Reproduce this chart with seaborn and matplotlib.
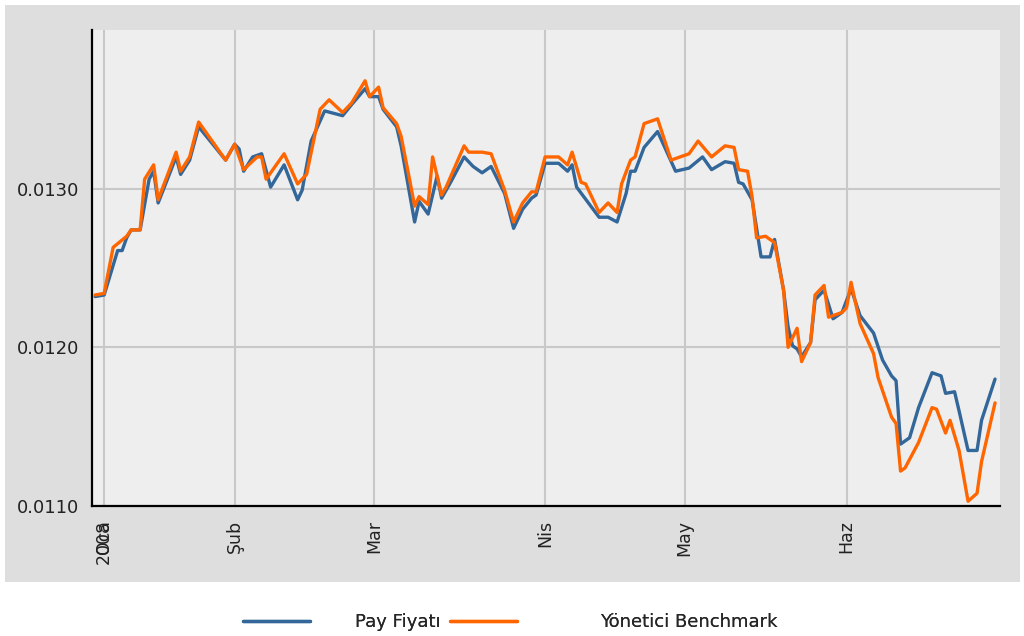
import matplotlib
matplotlib.use("Agg")
import matplotlib.pyplot as plt
from matplotlib.patches import Rectangle
import pandas as pd
import seaborn as sns

# Session index (trading days since the start of January 2008) and closing values
gun_pay = [0, 2, 5, 6, 7, 8, 10, 12, 13, 14,
           18, 19, 21, 23, 29, 31, 32, 33, 35, 37,
           39, 42, 45, 46, 48, 51, 55, 57, 60, 61,
           63, 64, 67, 68, 70, 71, 72, 74, 76, 77,
           79, 82, 84, 86, 88, 91, 93, 95, 97, 98,
           100, 103, 105, 106, 107, 112, 114, 116, 118, 119,
           120, 122, 125, 129, 132, 135, 137, 140, 142, 143,
           144, 146, 148, 150, 151, 153, 154, 155, 156, 157,
           159, 160, 162, 164, 166, 168, 170, 173, 175, 177,
           178, 179, 181, 183, 186, 188, 189, 191, 192, 194,
           196, 197, 200]
pay_fiyati = [0.01232, 0.01233, 0.01261, 0.01261, 0.01269, 0.01274, 0.01274, 0.01306, 0.01311, 0.01291,
              0.01320, 0.01309, 0.01318, 0.01339, 0.01318, 0.01328, 0.01325, 0.01311, 0.01320, 0.01322,
              0.01301, 0.01315, 0.01293, 0.01299, 0.01330, 0.01349, 0.01346, 0.01353, 0.01363, 0.01358,
              0.01358, 0.01350, 0.01339, 0.01327, 0.01295, 0.01279, 0.01292, 0.01284, 0.01308, 0.01294,
              0.01304, 0.01320, 0.01314, 0.01310, 0.01314, 0.01297, 0.01275, 0.01287, 0.01294, 0.01296,
              0.01316, 0.01316, 0.01311, 0.01315, 0.01301, 0.01282, 0.01282, 0.01279, 0.01297, 0.01311,
              0.01311, 0.01326, 0.01336, 0.01311, 0.01313, 0.01320, 0.01312, 0.01317, 0.01316, 0.01304,
              0.01303, 0.01293, 0.01257, 0.01257, 0.01268, 0.01236, 0.01213, 0.01201, 0.01199, 0.01194,
              0.01203, 0.01230, 0.01236, 0.01218, 0.01222, 0.01237, 0.01220, 0.01209, 0.01192, 0.01182,
              0.01179, 0.01139, 0.01143, 0.01162, 0.01184, 0.01182, 0.01171, 0.01172, 0.01160, 0.01135,
              0.01135, 0.01154, 0.01180]

gun_bm = [0, 2, 4, 7, 8, 10, 11, 13, 14, 18,
          19, 21, 23, 29, 31, 33, 36, 37, 38, 42,
          45, 47, 50, 52, 55, 57, 60, 61, 63, 64,
          67, 68, 70, 71, 72, 74, 75, 77, 78, 82,
          83, 86, 88, 91, 93, 95, 97, 98, 100, 103,
          105, 106, 108, 109, 112, 114, 116, 117, 119, 120,
          122, 125, 128, 132, 134, 137, 140, 142, 143, 145,
          146, 147, 149, 151, 153, 154, 156, 157, 159, 160,
          162, 163, 166, 167, 168, 170, 173, 174, 177, 178,
          179, 180, 183, 186, 187, 189, 190, 192, 194, 196,
          197, 200]
benchmark = [0.01233, 0.01234, 0.01263, 0.01270, 0.01274, 0.01274, 0.01306, 0.01315, 0.01293, 0.01323,
             0.01311, 0.01320, 0.01342, 0.01318, 0.01328, 0.01312, 0.01320, 0.01320, 0.01306, 0.01322,
             0.01303, 0.01309, 0.01350, 0.01356, 0.01348, 0.01354, 0.01368, 0.01358, 0.01364, 0.01351,
             0.01341, 0.01333, 0.01304, 0.01289, 0.01295, 0.01290, 0.01320, 0.01296, 0.01301, 0.01327,
             0.01323, 0.01323, 0.01322, 0.01299, 0.01279, 0.01291, 0.01298, 0.01298, 0.01320, 0.01320,
             0.01315, 0.01323, 0.01304, 0.01303, 0.01285, 0.01291, 0.01285, 0.01303, 0.01318, 0.01320,
             0.01341, 0.01344, 0.01318, 0.01322, 0.01330, 0.01320, 0.01327, 0.01326, 0.01312, 0.01311,
             0.01295, 0.01269, 0.01270, 0.01266, 0.01236, 0.01200, 0.01212, 0.01191, 0.01203, 0.01233,
             0.01239, 0.01219, 0.01222, 0.01225, 0.01241, 0.01215, 0.01196, 0.01181, 0.01156, 0.01152,
             0.01122, 0.01124, 0.01140, 0.01162, 0.01161, 0.01146, 0.01154, 0.01135, 0.01103, 0.01108,
             0.01128, 0.01165]

seriler = ["Pay Fiyatı", "Yönetici Benchmark"]
renkler = ["#336699", "#ff6600"]

# Month ticks (first session of each month)
ay_konum = [2, 31, 62, 100, 131, 167]
ay_etiket = ["Oca", "Şub", "Mar", "Nis", "May", "Haz"]
yil_etiket = "2008"

y_ana = [0.0110, 0.0120, 0.0130]
y_ara = [0.0115, 0.0125, 0.0135, 0.0140]

df = pd.concat([
    pd.DataFrame({"gun": gun_pay, "deger": pay_fiyati, "seri": seriler[0]}),
    pd.DataFrame({"gun": gun_bm, "deger": benchmark, "seri": seriler[1]}),
], ignore_index=True)

sns.set_style("white")
plt.rcParams["font.family"] = ["DejaVu Sans"]

W, H = 1024, 636
fig = plt.figure(figsize=(W / 100, H / 100), dpi=100)
fig.patch.set_facecolor("white")
# grey panel behind the plotting area
fig.patches.append(Rectangle((5 / W, 1 - 582 / H), 1015 / W, 577 / H,
                             transform=fig.transFigure, facecolor="#dedede",
                             edgecolor="none", zorder=-10))

ax = fig.add_axes([92 / W, 1 - 506 / H, 908 / W, 476 / H])
ax.set_zorder(1)
ax.set_facecolor("#eeeeee")

sns.lineplot(data=df, x="gun", y="deger", hue="seri", hue_order=seriler,
             palette=dict(zip(seriler, renkler)), estimator=None, sort=False,
             linewidth=2.4, ax=ax, legend=False)

ax.set_xlim(-0.7, 201.1)
ax.set_ylim(0.0110, 0.0140)

# y axis
ax.set_yticks(y_ana)
ax.set_yticklabels([f"{v:.4f}" for v in y_ana])
ax.set_yticks(y_ara, minor=True)
ax.tick_params(axis="y", which="both", direction="inout", length=6, width=1.2,
               color="black", labelsize=13, labelcolor="#222222", pad=6)

# x axis: month names, with the year stacked on the first one
ax.set_xticks(ay_konum)
ax.set_xticklabels(ay_etiket)
ax.set_xticks([ay_konum[0]], minor=True)
ax.set_xticklabels([yil_etiket], minor=True)
ax.xaxis.remove_overlapping_locs = False
ax.tick_params(axis="x", which="both", length=0, labelsize=12.5,
               labelcolor="#222222", pad=10, labelrotation=90)

ax.set_xlabel("")
ax.set_ylabel("")
ax.grid(True, which="major", color="#c8c8c8", linewidth=1.5)
ax.set_axisbelow(True)
for side in ("top", "right"):
    ax.spines[side].set_visible(False)
for side in ("left", "bottom"):
    ax.spines[side].set_color("black")
    ax.spines[side].set_linewidth(1.6)

# legend entries below the panel, one box each
handles = ax.get_lines()[:2]
legend_x = [243 / W, 450 / W]
legend_pad = [2.5, 4.6]
for h, lab, x0, tp in zip(handles, seriler, legend_x, legend_pad):
    leg = fig.legend([h], [lab], loc="center left", bbox_to_anchor=(x0, 1 - 622 / H),
                     frameon=False, handlelength=3.7, handletextpad=tp,
                     borderpad=0, borderaxespad=0, fontsize=13)
    fig.add_artist(leg)

fig.savefig("out.png", dpi=100)
